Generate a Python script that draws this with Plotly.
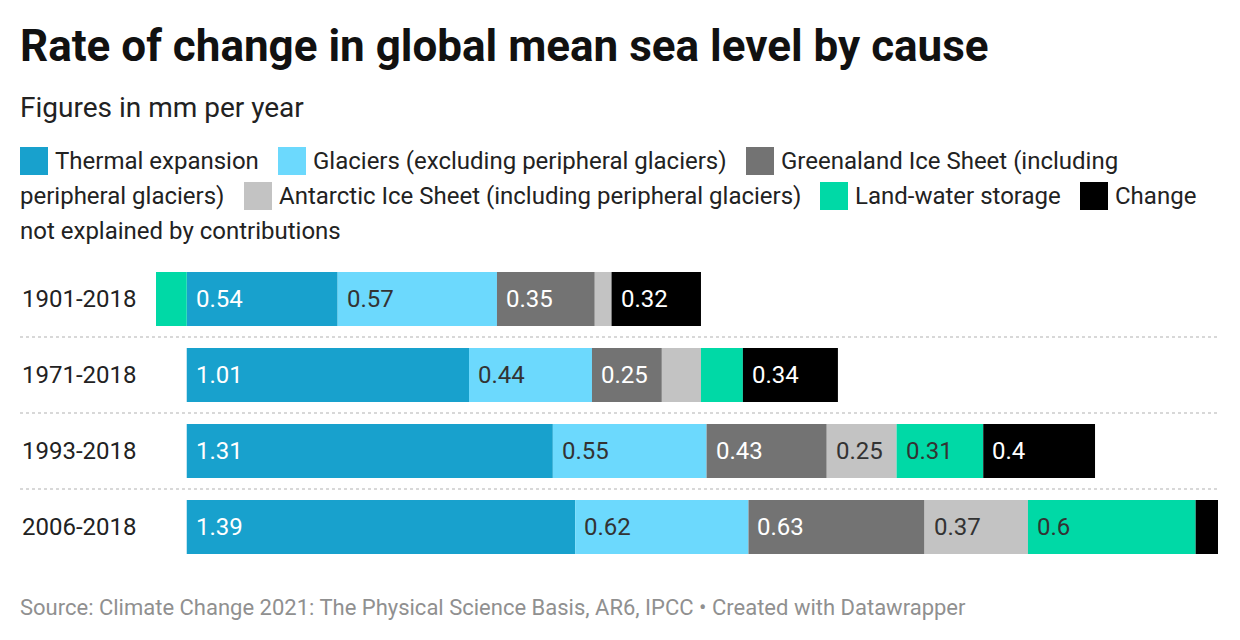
import plotly.graph_objects as go

# ---------------- data ----------------
periods = ["1901-2018", "1971-2018", "1993-2018", "2006-2018"]
thermal = [0.54, 1.01, 1.31, 1.39]
glaciers = [0.57, 0.44, 0.55, 0.62]
greenland = [0.35, 0.25, 0.43, 0.63]
antarctic = [0.06, 0.14, 0.25, 0.37]
land_water = [-0.11, 0.15, 0.31, 0.60]
unexplained = [0.32, 0.34, 0.40, 0.08]

series_names = [
    "Thermal expansion",
    "Glaciers (excluding peripheral glaciers)",
    "Greenaland Ice Sheet (including peripheral glaciers)",
    "Antarctic Ice Sheet (including peripheral glaciers)",
    "Land-water storage",
    "Change not explained by contributions",
]
series_values = [thermal, glaciers, greenland, antarctic, land_water, unexplained]
colors = ["#18a1cd", "#6cd9fd", "#737373", "#c3c3c3", "#00d9a6", "#000000"]
label_colors = ["#ffffff", "#333333", "#ffffff", "#333333", "#333333", "#ffffff"]

title = "Rate of change in global mean sea level by cause"
subtitle = "Figures in mm per year"
source = "Source: Climate Change 2021: The Physical Science Basis, AR6, IPCC • Created with Datawrapper"

# ---------------- layout geometry ----------------
W, H = 1240, 640
L, R, T, B = 156, 22, 261, 75
PW, PH = W - L - R, H - T - B
FONT = "Roboto"


def px2x(px):
    return (px - L) / PW


def px2y(py):
    return (H - B - py) / PH


fig = go.Figure()
for name, vals, col in zip(series_names, series_values, colors):
    fig.add_trace(go.Bar(
        y=periods, x=vals, orientation="h", name=name,
        marker=dict(color=col, line=dict(width=0)),
        showlegend=False, hoverinfo="x+name",
    ))

annotations = []
shapes = []

# value labels inside segments (left aligned)
for i, p in enumerate(periods):
    pos = 0.0
    for vals, lc in zip(series_values, label_colors):
        v = vals[i]
        if v > 0:
            if v >= 0.2:
                annotations.append(dict(
                    x=pos, y=p, xref="x", yref="y", text=f"{v:g}",
                    showarrow=False, xanchor="left", yanchor="middle", xshift=7,
                    font=dict(family=FONT, size=24, color=lc),
                ))
            pos += v

# row labels
for p in periods:
    annotations.append(dict(
        x=px2x(20), y=p, xref="paper", yref="y", text=p, showarrow=False,
        xanchor="left", yanchor="middle",
        font=dict(family=FONT, size=24, color="#222222"),
    ))

# dotted separators
for k in range(len(periods) - 1):
    shapes.append(dict(
        type="line", xref="paper", yref="y", x0=px2x(20), x1=px2x(1218),
        y0=k + 0.5, y1=k + 0.5, line=dict(color="#cccccc", width=1.5, dash="dot"),
    ))

# title / subtitle / source
annotations.append(dict(
    x=px2x(18), y=px2y(46), xref="paper", yref="paper", text=f"<b>{title}</b>",
    showarrow=False, xanchor="left", yanchor="middle",
    font=dict(family=FONT, size=44, color="#111111"),
))
annotations.append(dict(
    x=px2x(18), y=px2y(107), xref="paper", yref="paper", text=subtitle,
    showarrow=False, xanchor="left", yanchor="middle",
    font=dict(family=FONT, size=28, color="#222222"),
))
annotations.append(dict(
    x=px2x(18), y=px2y(607), xref="paper", yref="paper", text=source,
    showarrow=False, xanchor="left", yanchor="middle",
    font=dict(family=FONT, size=22, color="#909090"),
))

# custom legend (wraps like the original)
legend_items = [
    # (color, square_x, text, row_y)
    (colors[0], 20, "Thermal expansion", 161),
    (colors[1], 278, "Glaciers (excluding peripheral glaciers)", 161),
    (colors[2], 746, "Greenaland Ice Sheet (including", 161),
    (None, 20, "peripheral glaciers)", 196),
    (colors[3], 244, "Antarctic Ice Sheet (including peripheral glaciers)", 196),
    (colors[4], 820, "Land-water storage", 196),
    (colors[5], 1080, "Change", 196),
    (None, 20, "not explained by contributions", 231),
]
SQ = 28
for col, sx, txt, ry in legend_items:
    tx = sx
    if col is not None:
        shapes.append(dict(
            type="rect", xref="paper", yref="paper",
            x0=px2x(sx), x1=px2x(sx + SQ), y0=px2y(ry + SQ / 2), y1=px2y(ry - SQ / 2),
            fillcolor=col, line=dict(width=0),
        ))
        tx = sx + SQ + 7
    annotations.append(dict(
        x=px2x(tx - 2), y=px2y(ry), xref="paper", yref="paper", text=txt,
        showarrow=False, xanchor="left", yanchor="middle",
        font=dict(family=FONT, size=24, color="#222222"),
    ))

fig.update_layout(
    width=W, height=H, autosize=False,
    margin=dict(l=L, r=R, t=T, b=B, pad=0),
    barmode="relative", bargap=0.29,
    plot_bgcolor="white", paper_bgcolor="white",
    xaxis=dict(range=[-0.11, 3.69], visible=False, fixedrange=True),
    yaxis=dict(categoryorder="array", categoryarray=periods, autorange="reversed",
               showticklabels=False, showgrid=False, zeroline=False, fixedrange=True),
    annotations=annotations, shapes=shapes,
    font=dict(family=FONT),
)

fig.write_html("out.html")
